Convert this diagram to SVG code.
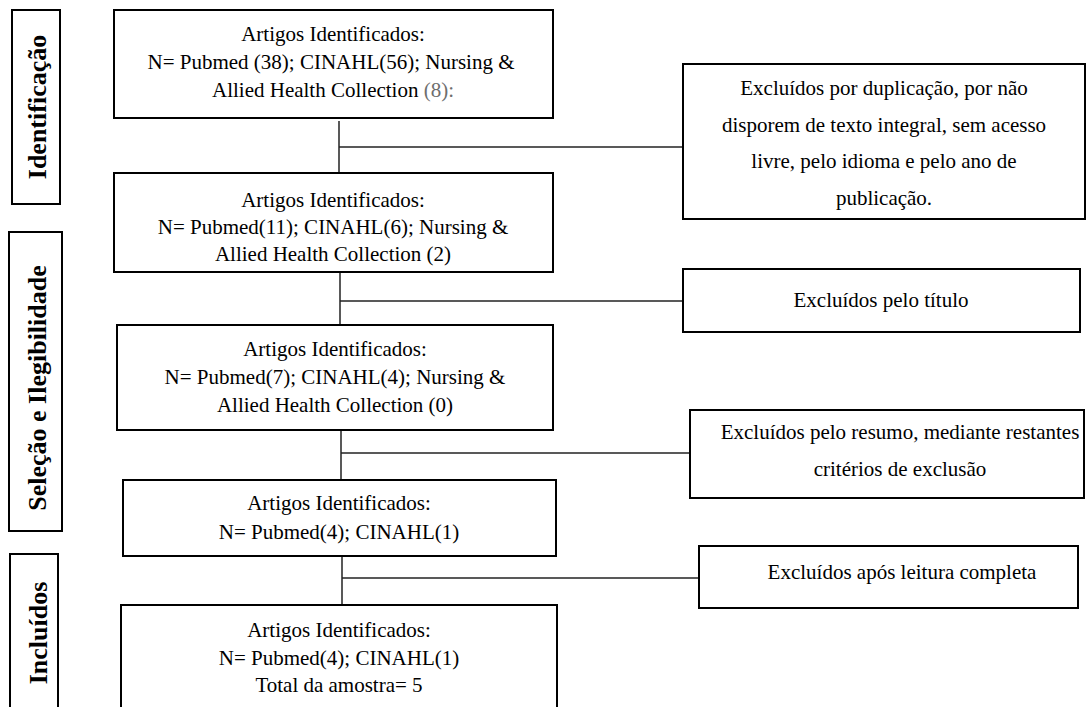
<svg xmlns="http://www.w3.org/2000/svg" width="1088" height="707" viewBox="0 0 1088 707">
<style>
  .box { fill: #fff; stroke: #000; stroke-width: 2; }
  .conn { stroke: #222; stroke-width: 1.5; fill: none; }
  .t { font-family: "Liberation Serif", "Times New Roman", serif; font-size: 21px; fill: #000; text-anchor: middle; }
  .lbl { font-family: "Liberation Serif", "Times New Roman", serif; font-size: 26px; font-weight: bold; fill: #000; text-anchor: middle; }
</style>
<rect width="1088" height="707" fill="#fff"/>

<g id="connectors">
  <line class="conn" x1="339" y1="121" x2="339" y2="173"/>
  <line class="conn" x1="339" y1="147" x2="683" y2="147"/>
  <line class="conn" x1="340" y1="272" x2="340" y2="325"/>
  <line class="conn" x1="340" y1="301" x2="683" y2="301"/>
  <line class="conn" x1="341" y1="430" x2="341" y2="480"/>
  <line class="conn" x1="341" y1="453" x2="690" y2="453"/>
  <line class="conn" x1="342" y1="556" x2="342" y2="605"/>
  <line class="conn" x1="342" y1="578" x2="699" y2="578"/>
</g>

<g id="label-identificacao">
  <rect class="box" x="12" y="10" width="48" height="194"/>
  <text class="lbl" transform="translate(46,107) rotate(-90)">Identificação</text>
</g>
<g id="label-selecao">
  <rect class="box" x="9" y="232" width="53" height="299"/>
  <text class="lbl" transform="translate(46,388) rotate(-90)">Seleção e Ilegibilidade</text>
</g>
<g id="label-incluidos">
  <rect class="box" x="10" y="554" width="48" height="170"/>
  <text class="lbl" transform="translate(47,633) rotate(-90)">Incluídos</text>
</g>

<g id="box1">
  <rect class="box" x="114" y="10" width="439" height="108"/>
  <text class="t" x="333" y="41">Artigos Identificados:</text>
  <text class="t" x="331" y="69">N= Pubmed (38); CINAHL(56); Nursing &amp;</text>
  <text class="t" x="333" y="97">Allied Health Collection <tspan fill="#6e6e6e">(8):</tspan></text>
</g>
<g id="box2">
  <rect class="box" x="114" y="173" width="439" height="99"/>
  <text class="t" x="333" y="207">Artigos Identificados:</text>
  <text class="t" x="333" y="234">N= Pubmed(11); CINAHL(6); Nursing &amp;</text>
  <text class="t" x="333" y="261">Allied Health Collection (2)</text>
</g>
<g id="box3">
  <rect class="box" x="117" y="325" width="436" height="105"/>
  <text class="t" x="335" y="356">Artigos Identificados:</text>
  <text class="t" x="335" y="384">N= Pubmed(7); CINAHL(4); Nursing &amp;</text>
  <text class="t" x="335" y="412">Allied Health Collection (0)</text>
</g>
<g id="box4">
  <rect class="box" x="123" y="480" width="433" height="76"/>
  <text class="t" x="339" y="510">Artigos Identificados:</text>
  <text class="t" x="339" y="539">N= Pubmed(4); CINAHL(1)</text>
</g>
<g id="box5">
  <rect class="box" x="121" y="605" width="436" height="120"/>
  <text class="t" x="339" y="637">Artigos Identificados:</text>
  <text class="t" x="339" y="665">N= Pubmed(4); CINAHL(1)</text>
  <text class="t" x="339" y="692">Total da amostra= 5</text>
</g>

<g id="excl1">
  <rect class="box" x="683" y="64" width="402" height="155"/>
  <text class="t" x="884" y="95">Excluídos por duplicação, por não</text>
  <text class="t" x="884" y="132">disporem de texto integral, sem acesso</text>
  <text class="t" x="884" y="168">livre, pelo idioma e pelo ano de</text>
  <text class="t" x="884" y="205">publicação.</text>
</g>
<g id="excl2">
  <rect class="box" x="683" y="269" width="397" height="63"/>
  <text class="t" x="881" y="307">Excluídos pelo título</text>
</g>
<g id="excl3">
  <rect class="box" x="690" y="410" width="394" height="88"/>
  <text class="t" x="900" y="439">Excluídos pelo resumo, mediante restantes</text>
  <text class="t" x="900" y="476">critérios de exclusão</text>
</g>
<g id="excl4">
  <rect class="box" x="699" y="546" width="379" height="62"/>
  <text class="t" x="902" y="579">Excluídos após leitura completa</text>
</g>
</svg>
